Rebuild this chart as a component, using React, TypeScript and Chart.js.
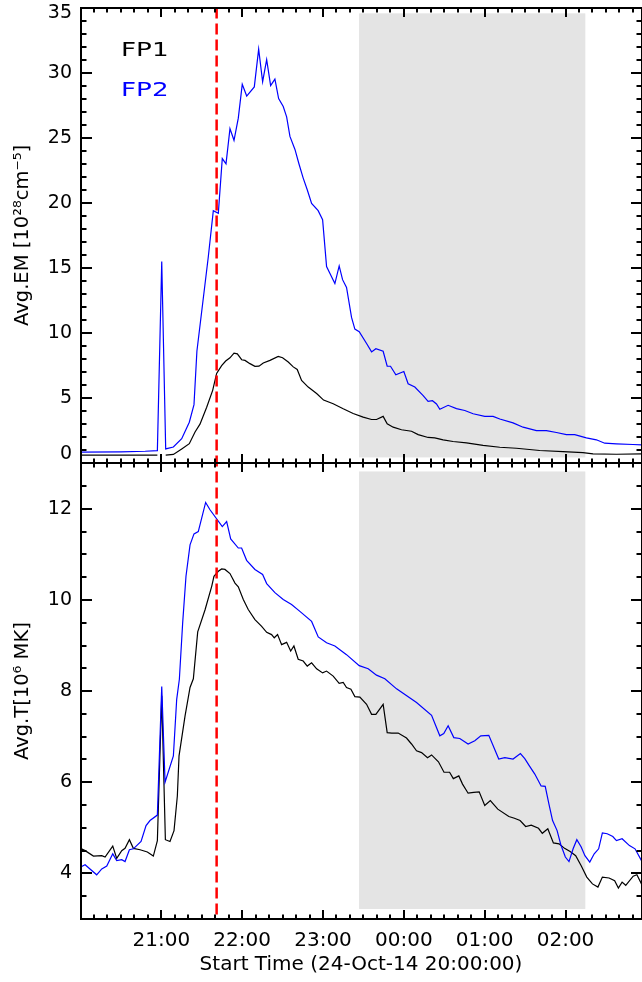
import { useEffect, useRef } from 'react';
import { Chart, registerables } from 'chart.js';

Chart.register(...registerables);

const FONT = 'DejaVu Sans';

// Time axis: hours after 24-Oct-14 20:00:00
const xMaxHours = 6.94;
const xTickHours = [1, 2, 3, 4, 5, 6];
const xTickLabels = ['21:00', '22:00', '23:00', '00:00', '01:00', '02:00'];
const xMinorPerHour = 6;

const emRange = [0, 35];
const emTickValues = [0, 5, 10, 15, 20, 25, 30, 35];
const emTickLabels = ['0', '5', '10', '15', '20', '25', '30', '35'];
const emMinorStep = 1;

const tRange = [3, 13];
const tTickValues = [4, 6, 8, 10, 12];
const tTickLabels = ['4', '6', '8', '10', '12'];
const tMinorStep = 0.5;

const shadeTimes = [3.446, 6.245];
const shadeEM = [0.45, 34.55];
const shadeT = [3.22, 12.82];
const markerTime = 1.684;

const seriesNames = ['FP1', 'FP2'];

// Top panel: Avg.EM, FP1 (black)
const emFp1Time = [0, 0.5, 0.951, 1.0, 1.054, 1.149, 1.252, 1.346, 1.417, 1.478, 1.561, 1.635, 1.684, 1.746, 1.796, 1.849, 1.899, 1.94, 1.994, 2.035, 2.096, 2.158, 2.208, 2.261, 2.344, 2.446, 2.5, 2.57, 2.632, 2.681, 2.735, 2.817, 2.921, 3.007, 3.126, 3.25, 3.373, 3.497, 3.6, 3.662, 3.744, 3.794, 3.868, 3.971, 4.095, 4.177, 4.3, 4.383, 4.486, 4.609, 4.775, 4.98, 5.187, 5.393, 5.681, 5.969, 6.216, 6.34, 6.629, 6.94];
const emFp1Values = [0.62, 0.62, 0.62, null, 0.62, 0.68, 1.1, 1.5, 2.4, 3.0, 4.3, 5.6, 6.9, 7.5, 7.85, 8.1, 8.46, 8.4, 7.95, 7.9, 7.65, 7.44, 7.46, 7.7, 7.9, 8.2, 8.1, 7.77, 7.4, 7.2, 6.36, 5.85, 5.36, 4.85, 4.57, 4.18, 3.82, 3.54, 3.36, 3.36, 3.6, 3.03, 2.77, 2.57, 2.46, 2.2, 1.98, 1.95, 1.8, 1.67, 1.57, 1.38, 1.23, 1.15, 0.98, 0.9, 0.82, 0.72, 0.69, 0.72];

// Top panel: Avg.EM, FP2 (blue)
const emFp2Time = [0, 0.5, 0.8, 0.951, 1.005, 1.054, 1.149, 1.252, 1.346, 1.404, 1.44, 1.58, 1.643, 1.705, 1.754, 1.8, 1.849, 1.899, 1.952, 2.001, 2.056, 2.15, 2.204, 2.253, 2.303, 2.352, 2.405, 2.451, 2.508, 2.55, 2.591, 2.653, 2.702, 2.755, 2.805, 2.859, 2.94, 2.995, 3.044, 3.147, 3.2, 3.242, 3.291, 3.353, 3.394, 3.448, 3.539, 3.601, 3.654, 3.744, 3.794, 3.835, 3.901, 4.0, 4.053, 4.136, 4.239, 4.3, 4.354, 4.404, 4.445, 4.548, 4.651, 4.754, 4.857, 5.001, 5.104, 5.187, 5.351, 5.475, 5.64, 5.764, 5.888, 6.011, 6.114, 6.258, 6.382, 6.485, 6.629, 6.835, 6.94];
const emFp2Values = [0.85, 0.88, 0.92, 0.97, 15.5, 1.1, 1.25, 1.88, 3.15, 4.5, 8.6, 15.8, 19.4, 19.2, 23.4, 23.0, 25.7, 24.8, 26.5, 29.1, 28.2, 28.9, 31.8, 29.3, 31.0, 29.0, 29.5, 28.0, 27.4, 26.6, 25.1, 24.1, 23.0, 21.9, 21.0, 19.95, 19.4, 18.7, 15.1, 13.8, 15.15, 14.1, 13.5, 11.2, 10.3, 10.1, 9.2, 8.55, 8.8, 8.6, 7.45, 7.45, 6.8, 7.05, 6.1, 5.85, 5.2, 4.75, 4.8, 4.55, 4.15, 4.45, 4.2, 4.05, 3.8, 3.6, 3.6, 3.4, 3.1, 2.77, 2.5, 2.5, 2.36, 2.2, 2.2, 1.95, 1.8, 1.54, 1.49, 1.44, 1.41];

// Bottom panel: Avg.T, FP1 (black)
const tFp1Time = [0, 0.057, 0.16, 0.263, 0.304, 0.399, 0.448, 0.51, 0.551, 0.605, 0.654, 0.737, 0.827, 0.901, 0.951, 1.005, 1.05, 1.107, 1.157, 1.198, 1.219, 1.293, 1.355, 1.396, 1.45, 1.54, 1.623, 1.651, 1.705, 1.746, 1.787, 1.849, 1.911, 1.952, 2.014, 2.075, 2.158, 2.241, 2.303, 2.364, 2.397, 2.438, 2.488, 2.55, 2.6, 2.64, 2.693, 2.755, 2.805, 2.859, 2.921, 2.995, 3.044, 3.126, 3.2, 3.25, 3.291, 3.345, 3.394, 3.456, 3.539, 3.601, 3.654, 3.744, 3.794, 3.85, 3.93, 4.033, 4.095, 4.157, 4.219, 4.293, 4.343, 4.428, 4.497, 4.566, 4.612, 4.68, 4.726, 4.795, 4.864, 4.932, 5.001, 5.07, 5.162, 5.299, 5.368, 5.438, 5.507, 5.576, 5.666, 5.713, 5.781, 5.85, 5.92, 5.988, 6.057, 6.126, 6.194, 6.263, 6.333, 6.401, 6.456, 6.539, 6.608, 6.654, 6.7, 6.745, 6.837, 6.883, 6.94];
const tFp1Values = [4.55, 4.5, 4.38, 4.39, 4.36, 4.6, 4.33, 4.5, 4.55, 4.74, 4.55, 4.52, 4.47, 4.38, 4.72, 7.9, 4.74, 4.7, 4.94, 5.7, 6.58, 7.45, 8.08, 8.27, 9.3, 9.78, 10.3, 10.52, 10.63, 10.68, 10.67, 10.58, 10.37, 10.29, 10.01, 9.79, 9.57, 9.42, 9.29, 9.24, 9.17, 9.24, 9.02, 9.07, 8.88, 8.99, 8.7, 8.66, 8.55, 8.62, 8.49, 8.4, 8.44, 8.33, 8.17, 8.19, 8.08, 8.04, 7.88, 7.87, 7.71, 7.49, 7.49, 7.71, 7.09, 7.08, 7.08, 6.97, 6.84, 6.69, 6.65, 6.54, 6.6, 6.45, 6.22, 6.22, 6.08, 6.14, 5.96, 5.76, 5.78, 5.79, 5.49, 5.6, 5.41, 5.25, 5.21, 5.16, 5.03, 5.06, 4.99, 4.88, 4.98, 4.67, 4.65, 4.55, 4.48, 4.39, 4.17, 3.92, 3.77, 3.7, 3.92, 3.9, 3.84, 3.68, 3.81, 3.74, 3.94, 3.97, 3.77];

// Bottom panel: Avg.T, FP2 (blue)
const tFp2Time = [0.003, 0.057, 0.2, 0.263, 0.325, 0.399, 0.448, 0.51, 0.551, 0.605, 0.654, 0.749, 0.811, 0.86, 0.951, 1.005, 1.046, 1.149, 1.19, 1.223, 1.264, 1.305, 1.355, 1.404, 1.457, 1.548, 1.602, 1.754, 1.808, 1.858, 1.952, 1.993, 2.055, 2.158, 2.253, 2.303, 2.405, 2.508, 2.611, 2.714, 2.859, 2.941, 3.044, 3.147, 3.291, 3.448, 3.559, 3.662, 3.765, 3.91, 4.157, 4.343, 4.445, 4.494, 4.548, 4.618, 4.692, 4.795, 4.878, 4.952, 5.051, 5.174, 5.249, 5.351, 5.442, 5.496, 5.553, 5.62, 5.698, 5.749, 5.795, 5.84, 5.896, 5.942, 5.998, 6.043, 6.094, 6.14, 6.194, 6.24, 6.3, 6.355, 6.41, 6.456, 6.516, 6.585, 6.63, 6.7, 6.791, 6.86, 6.94];
const tFp2Values = [4.14, 4.19, 3.97, 4.1, 4.16, 4.43, 4.28, 4.3, 4.26, 4.52, 4.54, 4.7, 5.05, 5.16, 5.28, 8.1, 6.0, 6.58, 7.82, 8.26, 9.5, 10.52, 11.21, 11.45, 11.5, 12.14, 11.98, 11.61, 11.72, 11.34, 11.14, 11.14, 10.87, 10.67, 10.56, 10.36, 10.16, 10.01, 9.9, 9.75, 9.53, 9.19, 9.06, 8.99, 8.8, 8.56, 8.49, 8.35, 8.27, 8.05, 7.75, 7.47, 7.02, 7.07, 7.24, 6.98, 6.96, 6.84, 6.91, 7.02, 7.03, 6.51, 6.54, 6.51, 6.63, 6.52, 6.36, 6.18, 5.92, 5.91, 5.52, 5.16, 4.94, 4.63, 4.36, 4.26, 4.54, 4.74, 4.58, 4.39, 4.25, 4.43, 4.54, 4.89, 4.87, 4.81, 4.72, 4.76, 4.61, 4.54, 4.28];

const toPoints = (xs: number[], ys: (number | null)[]) => xs.map((x, i) => ({ x, y: ys[i] }));

const framePlugin = {
  id: 'idlFrame',
  beforeDatasetsDraw(chart: any) {
    const { ctx, scales } = chart;
    const x = scales.x, em = scales.yEM, t = scales.yT;
    ctx.save();
    ctx.fillStyle = '#e4e4e4';
    const x0 = x.getPixelForValue(shadeTimes[0]);
    const x1 = x.getPixelForValue(shadeTimes[1]);
    const e0 = em.getPixelForValue(shadeEM[1]);
    const e1 = em.getPixelForValue(shadeEM[0]);
    ctx.fillRect(x0, e0, x1 - x0, e1 - e0);
    const t0 = t.getPixelForValue(shadeT[1]);
    const t1 = t.getPixelForValue(shadeT[0]);
    ctx.fillRect(x0, t0, x1 - x0, t1 - t0);
    ctx.restore();
  },
  afterDatasetsDraw(chart: any) {
    const { ctx, scales, chartArea } = chart;
    const x = scales.x, em = scales.yEM, t = scales.yT;
    const left = chartArea.left, right = chartArea.right;
    ctx.save();
    // red dashed marker
    const mx = x.getPixelForValue(markerTime);
    ctx.strokeStyle = '#ff0000';
    ctx.lineWidth = 2.5;
    ctx.setLineDash([11, 5]);
    ctx.beginPath();
    ctx.moveTo(mx, chartArea.top);
    ctx.lineTo(mx, chartArea.bottom);
    ctx.stroke();
    ctx.setLineDash([]);

    // frames and inward ticks
    ctx.strokeStyle = '#000000';
    ctx.fillStyle = '#000000';
    const panels = [
      { s: em, range: emRange, majors: emTickValues, step: emMinorStep },
      { s: t, range: tRange, majors: tTickValues, step: tMinorStep },
    ];
    const L = Math.round(left);
    const R = Math.round(right);
    for (const p of panels) {
      const top = Math.round(p.s.getPixelForValue(p.range[1]));
      const bottom = Math.round(p.s.getPixelForValue(p.range[0]));
      ctx.lineWidth = 2;
      ctx.strokeRect(L, top, R - L, bottom - top);
      const n = Math.round((p.range[1] - p.range[0]) / p.step);
      for (let i = 1; i < n; i++) {
        const v = p.range[0] + i * p.step;
        const major = p.majors.some((m) => Math.abs(m - v) < 1e-6);
        const len = major ? 11 : 5.5;
        const py = Math.round(p.s.getPixelForValue(v));
        ctx.fillRect(L, py - 1, len, 2);
        ctx.fillRect(R - len, py - 1, len, 2);
      }
      const nx = Math.floor(xMaxHours * xMinorPerHour + 1e-9);
      for (let i = 1; i <= nx; i++) {
        const v = i / xMinorPerHour;
        const px = Math.round(x.getPixelForValue(v));
        if (px >= R - 1) continue;
        const len = i % xMinorPerHour === 0 ? 9 : 4.5;
        ctx.fillRect(px - 1, top, 2, len);
        ctx.fillRect(px - 1, bottom - len, 2, len);
      }
    }

    // end labels of the EM axis, nudged inside the panel
    ctx.fillStyle = '#000';
    ctx.font = `19px "${FONT}"`;
    ctx.textAlign = 'right';
    ctx.textBaseline = 'middle';
    ctx.fillText(emTickLabels[emTickLabels.length - 1], left - 8.5, em.getPixelForValue(emTickValues[emTickValues.length - 1]) + 6);
    ctx.fillText(emTickLabels[0], left - 8.5, em.getPixelForValue(emTickValues[0]) - 9);

    // legend text (wide lettering as in the original)
    ctx.textAlign = 'left';
    ctx.textBaseline = 'alphabetic';
    ctx.font = `19px "${FONT}"`;
    const legendColors = ['#000000', '#0000ff'];
    const legendBaselines = [55.5, 96];
    seriesNames.forEach((name, i) => {
      ctx.save();
      ctx.translate(121, legendBaselines[i]);
      ctx.scale(1.38, 1);
      ctx.fillStyle = legendColors[i];
      ctx.fillText(name, 0, 0);
      ctx.restore();
    });
    ctx.restore();
  },
};

const zeroPadding = (scale: any) => {
  scale.paddingTop = 0;
  scale.paddingBottom = 0;
};

export default function App() {
  const ref = useRef<HTMLCanvasElement | null>(null);
  useEffect(() => {
    if (!ref.current) return;
    const tickFont = { family: FONT, size: 19 };
    const chart = new Chart(ref.current, {
      type: 'line',
      data: {
        datasets: [
          { label: 'FP2 EM', data: toPoints(emFp2Time, emFp2Values), yAxisID: 'yEM', borderColor: '#0000ff', borderWidth: 1.2, pointRadius: 0, tension: 0, order: 0 },
          { label: 'FP2 T', data: toPoints(tFp2Time, tFp2Values), yAxisID: 'yT', borderColor: '#0000ff', borderWidth: 1.2, pointRadius: 0, tension: 0, order: 0 },
          { label: 'FP1 EM', data: toPoints(emFp1Time, emFp1Values), yAxisID: 'yEM', borderColor: '#000000', borderWidth: 1.2, pointRadius: 0, tension: 0, order: 1, spanGaps: false },
          { label: 'FP1 T', data: toPoints(tFp1Time, tFp1Values), yAxisID: 'yT', borderColor: '#000000', borderWidth: 1.2, pointRadius: 0, tension: 0, order: 1 },
        ],
      },
      options: {
        animation: false,
        responsive: false,
        devicePixelRatio: 1,
        layout: { padding: { top: 7.5, right: 0.5, left: 0, bottom: 0 } },
        plugins: { legend: { display: false }, tooltip: { enabled: false } },
        scales: {
          x: {
            type: 'linear',
            position: 'bottom',
            min: 0,
            max: xMaxHours,
            grid: { display: false, drawTicks: false },
            border: { display: false },
            afterBuildTicks: (scale: any) => {
              scale.ticks = xTickHours.map((v) => ({ value: v }));
            },
            afterFit: (scale: any) => {
              scale.height = 63;
              scale.paddingLeft = 0;
              scale.paddingRight = 0;
            },
            ticks: {
              autoSkip: false,
              maxRotation: 0,
              padding: 10,
              color: '#000',
              font: { family: FONT, size: 20 },
              callback: (v: any) => {
                const i = xTickHours.indexOf(Number(v));
                return i >= 0 ? xTickLabels[i] : '';
              },
            },
            title: {
              display: true,
              text: 'Start Time (24-Oct-14 20:00:00)',
              color: '#000',
              font: { family: FONT, size: 20 },
              padding: { top: 0, bottom: 5 },
            },
          },
          yT: {
            type: 'linear',
            position: 'left',
            stack: 'panels',
            stackWeight: 1,
            min: tRange[0],
            max: tRange[1],
            grid: { display: false, drawTicks: false },
            border: { display: false },
            afterBuildTicks: (scale: any) => {
              scale.ticks = tTickValues.map((v) => ({ value: v }));
            },
            afterFit: (scale: any) => {
              scale.width = 80.5;
              zeroPadding(scale);
            },
            ticks: {
              padding: 8.5,
              color: '#000',
              font: tickFont,
              callback: (v: any) => {
                const i = tTickValues.indexOf(Number(v));
                return i >= 0 ? tTickLabels[i] : '';
              },
            },
            title: {
              display: true,
              text: 'Avg.T[10⁶ MK]',
              color: '#000',
              font: { family: FONT, size: 19.5 },
              padding: { top: 11, bottom: 0 },
            },
          },
          yEM: {
            type: 'linear',
            position: 'left',
            stack: 'panels',
            stackWeight: 1,
            min: emRange[0],
            max: emRange[1],
            grid: { display: false, drawTicks: false },
            border: { display: false },
            afterBuildTicks: (scale: any) => {
              scale.ticks = emTickValues.map((v) => ({ value: v }));
            },
            afterFit: (scale: any) => {
              scale.width = 80.5;
              zeroPadding(scale);
            },
            ticks: {
              padding: 8.5,
              color: '#000',
              font: tickFont,
              callback: (v: any) => {
                const n = Number(v);
                if (n === emRange[0] || n === emRange[1]) return '';
                const i = emTickValues.indexOf(n);
                return i >= 0 ? emTickLabels[i] : '';
              },
            },
            title: {
              display: true,
              text: 'Avg.EM [10²⁸cm⁻⁵]',
              color: '#000',
              font: { family: FONT, size: 19.5 },
              padding: { top: 11, bottom: 0 },
            },
          },
        },
      } as any,
      plugins: [framePlugin],
    });
    return () => chart.destroy();
  }, []);

  return (
    <div style={{ position: 'absolute', left: 0, top: 0, width: 642, height: 982, background: '#ffffff' }}>
      <canvas ref={ref} width={642} height={982} style={{ display: 'block', width: 642, height: 982 }} />
    </div>
  );
}
